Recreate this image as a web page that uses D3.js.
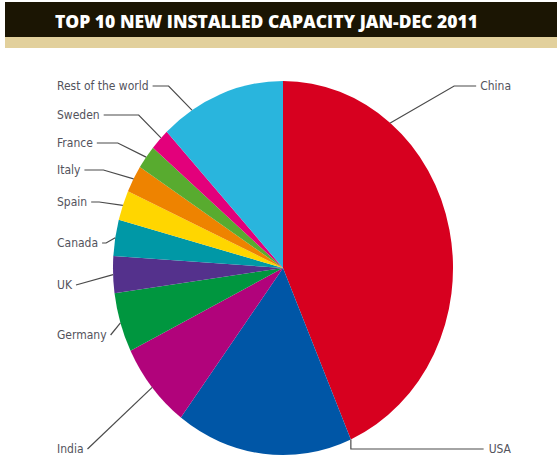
<!DOCTYPE html>
<html>
<head>
<meta charset="utf-8">
<script src="https://cdn.jsdelivr.net/npm/d3@7"></script>
<style>
  body { margin: 0; background: #fff; }
  svg { display: block; }
</style>
</head>
<body>
<svg id="chart" width="557" height="461"></svg>
<script>
// installed capacity 2011, MW
var countries = ["China", "USA", "India", "Germany", "UK", "Canada", "Spain", "Italy", "France", "Sweden", "Rest of the world"];
var capacity = [17631, 6810, 3019, 2086, 1293, 1267, 1050, 950, 830, 763, 4865];
var colors = ["#d7001f", "#0056a6", "#b1037b", "#00963f", "#54318c", "#0098a6", "#ffd600", "#ee8300", "#58ab2f", "#e3007b", "#29b5dd"];
var title = "TOP 10 NEW INSTALLED CAPACITY JAN-DEC 2011";

// label placement: side, label centre y, horizontal leader length, where the leader hits the slice (0..1)
var labelLayout = {
    "China":             {side: "right", y: 86,  run: 22, at: 0.25},
    "USA":               {side: "right", y: 449, run: 0,  at: 0},
    "India":             {side: "left",  y: 449, run: 0,  at: 0.5},
    "Germany":           {side: "left",  y: 335, run: 0,  at: 0.5},
    "UK":                {side: "left",  y: 285, run: 0,  at: 0.5},
    "Canada":            {side: "left",  y: 243, run: 4,  at: 0.5},
    "Spain":             {side: "left",  y: 202, run: 8,  at: 0.5},
    "Italy":             {side: "left",  y: 170, run: 19, at: 0.5},
    "France":            {side: "left",  y: 143, run: 21, at: 0.5},
    "Sweden":            {side: "left",  y: 115, run: 35, at: 0.6},
    "Rest of the world": {side: "left",  y: 86,  run: 16, at: 0.25}
};

var svg = d3.select("#chart"),
    cx = 283, cy = 268,
    rx = 170, ry = 187;

// title band
svg.append("rect").attr("x", 5).attr("y", 2).attr("width", 552).attr("height", 35).attr("fill", "#1b1503");
svg.append("rect").attr("x", 5).attr("y", 37).attr("width", 552).attr("height", 11).attr("fill", "#e2d09c");
svg.append("text")
    .attr("x", 55).attr("y", 28)
    .attr("textLength", 423).attr("lengthAdjust", "spacingAndGlyphs")
    .style("font-family", "'Open Sans', 'DejaVu Sans', sans-serif")
    .style("font-weight", "800")
    .style("font-size", "18px")
    .style("fill", "#fff")
    .text(title);

var data = countries.map(function(c, i) { return {name: c, value: capacity[i], color: colors[i]}; });

var pie = d3.pie().sort(null).value(d => d.value);
var arcs = pie(data);

// unit arc, stretched into the ellipse
var arc = d3.arc().innerRadius(0).outerRadius(1);

svg.append("g")
    .attr("transform", `translate(${cx},${cy}) scale(${rx},${ry})`)
    .selectAll("path")
    .data(arcs)
    .enter().append("path")
    .attr("d", arc)
    .attr("fill", d => d.data.color);

function edgePoint(a) {
    return [cx + rx * Math.sin(a), cy - ry * Math.cos(a)];
}

var labels = svg.append("g");

arcs.forEach(function(d) {
    var lay = labelLayout[d.data.name];
    var a = d.startAngle + (d.endAngle - d.startAngle) * lay.at;
    var p = edgePoint(a);

    var t = labels.append("text")
        .attr("y", lay.y)
        .attr("dy", "0.35em")
        .style("font-family", "'Liberation Sans Narrow', 'DejaVu Sans Condensed', sans-serif")
        .style("font-size", "12px")
        .style("fill", "#53535c")
        .text(d.data.name);

    var pts;
    if (lay.side == "left") {
        t.attr("x", 57);
        var x0 = 57 + t.node().getComputedTextLength() + 4;
        pts = [[x0, lay.y], [x0 + lay.run, lay.y], p];
    } else {
        var w = t.node().getComputedTextLength();
        var tx = 511 - w;
        t.attr("x", tx);
        if (lay.run > 0)
            pts = [p, [tx - 4 - lay.run, lay.y], [tx - 4, lay.y]];
        else
            pts = [p, [p[0], lay.y], [tx - 5, lay.y]];
    }

    labels.append("path")
        .attr("d", d3.line()(pts))
        .attr("fill", "none")
        .attr("stroke", "#4a4a4a")
        .attr("stroke-width", 1.2);
});
</script>
</body>
</html>
